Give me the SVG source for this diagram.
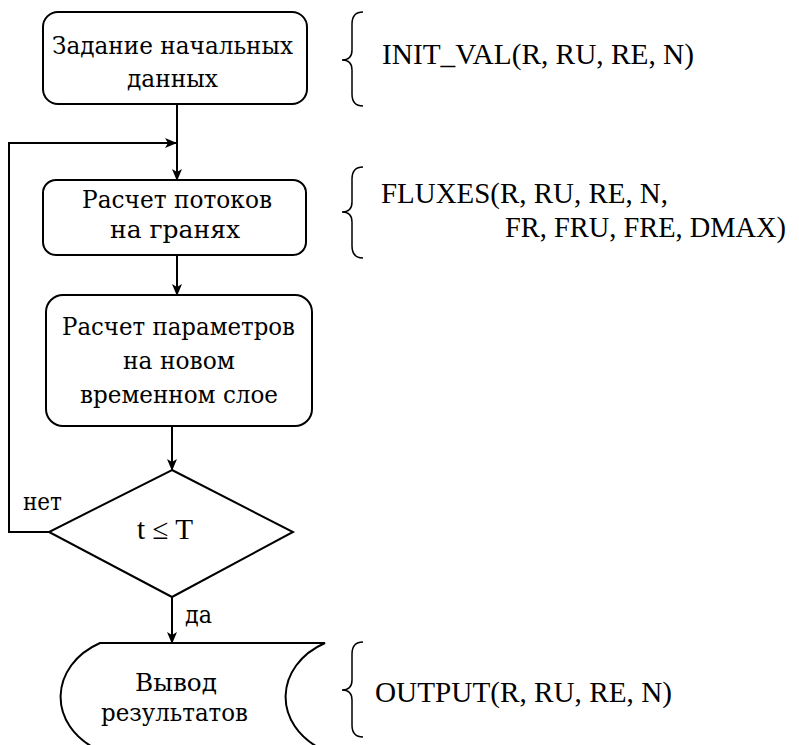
<svg xmlns="http://www.w3.org/2000/svg" width="799" height="745" viewBox="0 0 799 745">
<style>
.s{fill:none;stroke:#000;stroke-width:2}
.br{fill:none;stroke:#000;stroke-width:1.5}
.b{fill:#fff;stroke:#000;stroke-width:2}
text{font-family:"Liberation Serif","DejaVu Serif",serif;font-size:29px;fill:#000}
.cy{font-family:"DejaVu Serif","Liberation Serif",serif;font-size:25px}
.c{text-anchor:middle}
</style>
<defs>
<marker id="ah" markerWidth="12" markerHeight="10" refX="11" refY="5" orient="auto" markerUnits="userSpaceOnUse">
<path d="M0,0 L12,5 L0,10 L3,5 z" fill="#000"/>
</marker>
</defs>
<rect width="799" height="745" fill="#fff"/>
<g id="connectors">
<line class="s" x1="177" y1="104" x2="177" y2="180" marker-end="url(#ah)"/>
<polyline class="s" points="49,532 9,532 9,143 176,143" marker-end="url(#ah)"/>
<line class="s" x1="177" y1="255" x2="177" y2="295" marker-end="url(#ah)"/>
<line class="s" x1="172" y1="426" x2="172" y2="470" marker-end="url(#ah)"/>
<line class="s" x1="172" y1="597" x2="172" y2="643" marker-end="url(#ah)"/>
<text class="cy" x="23" y="510" textLength="39" lengthAdjust="spacingAndGlyphs">нет</text>
<text class="cy" x="185" y="623" textLength="27" lengthAdjust="spacingAndGlyphs">да</text>
</g>
<g id="n1">
<rect class="b" x="43" y="12" width="264" height="92" rx="15"/>
<text class="cy" x="52" y="54" textLength="241" lengthAdjust="spacingAndGlyphs">Задание начальных</text>
<text class="cy" x="127" y="87" textLength="91" lengthAdjust="spacingAndGlyphs">данных</text>
</g>
<g id="n2">
<rect class="b" x="43" y="180" width="263" height="75" rx="13"/>
<text class="cy" x="82" y="208" textLength="190" lengthAdjust="spacingAndGlyphs">Расчет потоков</text>
<text class="cy" x="110" y="238" textLength="130" lengthAdjust="spacingAndGlyphs">на гранях</text>
</g>
<g id="n3">
<rect class="b" x="46" y="295" width="266" height="131" rx="17"/>
<text class="cy" x="62" y="335" textLength="233" lengthAdjust="spacingAndGlyphs">Расчет параметров</text>
<text class="cy" x="123" y="369" textLength="112" lengthAdjust="spacingAndGlyphs">на новом</text>
<text class="cy" x="80" y="403" textLength="198" lengthAdjust="spacingAndGlyphs">временном слое</text>
</g>
<g id="n4">
<polygon class="b" points="172,470 293,532 172,597 49,532"/>
<text x="137" y="539" textLength="56" lengthAdjust="spacingAndGlyphs">t ≤ T</text>
</g>
<g id="n5">
<path class="b" d="M325,643 L100,643 C50,665 45,725 100,751 L325,751 C270,725 275,665 325,643 Z"/>
<text class="cy" x="135" y="691" textLength="82" lengthAdjust="spacingAndGlyphs">Вывод</text>
<text class="cy" x="101" y="721" textLength="147" lengthAdjust="spacingAndGlyphs">результатов</text>
</g>
<g id="brace1">
<path class="br" d="M363,12 Q352,12 352,24 L352,50 Q352,60 342,60 Q352,60 352,70 L352,94 Q352,106 363,106"/>
<text x="382" y="64" textLength="312" lengthAdjust="spacingAndGlyphs">INIT_VAL(R, RU, RE, N)</text>
</g>
<g id="brace2">
<path class="br" d="M363,167 Q352,167 352,179 L352,202 Q352,212 342,212 Q352,212 352,222 L352,246 Q352,258 363,258"/>
<text x="381" y="203" textLength="287" lengthAdjust="spacingAndGlyphs">FLUXES(R, RU, RE, N,</text>
<text x="505" y="237" textLength="281" lengthAdjust="spacingAndGlyphs">FR, FRU, FRE, DMAX)</text>
</g>
<g id="brace3">
<path class="br" d="M363,642 Q352,642 352,654 L352,680 Q352,690 342,690 Q352,690 352,700 L352,725 Q352,737 363,737"/>
<text x="375" y="702" textLength="297" lengthAdjust="spacingAndGlyphs">OUTPUT(R, RU, RE, N)</text>
</g>
</svg>
